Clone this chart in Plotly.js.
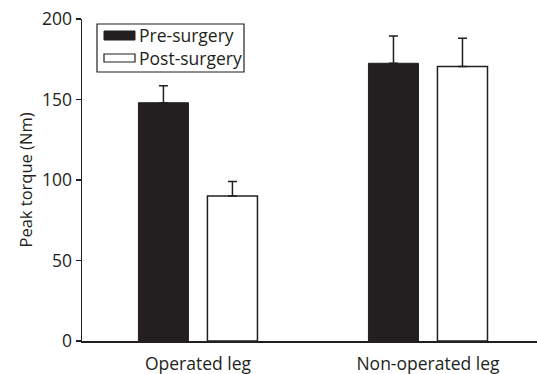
<!DOCTYPE html>
<html>
<head>
<meta charset="utf-8">
<script src="https://cdn.plot.ly/plotly-3.0.1.min.js"></script>
<style>html,body{margin:0;padding:0;background:#fff;}#chart{width:537px;height:374px;}</style>
</head>
<body>
<div id="chart"></div>
<script>
const categories = ['Operated leg', 'Non-operated leg'];
const seriesNames = ['Pre-surgery', 'Post-surgery'];
const preValues = [148, 172.5];
const preErrors = [10.6, 17];
const postValues = [90, 170.5];
const postErrors = [9, 17.5];
const yTicks = [0, 50, 100, 150, 200];

const ink = '#231f20';
const fontFamily = 'Open Sans, sans-serif';

const W = 537, H = 374, mL = 82, mR = 0, mT = 19, mB = 33;
const pw = W - mL - mR, ph = H - mT - mB;
const px = v => (v - mL) / pw;
const py = v => (H - mB - v) / ph;

const traces = [
  {
    type: 'bar', name: seriesNames[0], x: categories, y: preValues,
    marker: {color: ink, line: {color: ink, width: 1}},
    error_y: {type: 'data', array: preErrors, arrayminus: [0, 0], symmetric: false, color: ink, thickness: 1.5, width: 4.5},
    showlegend: false
  },
  {
    type: 'bar', name: seriesNames[1], x: categories, y: postValues,
    marker: {color: '#ffffff', line: {color: ink, width: 1.5}},
    error_y: {type: 'data', array: postErrors, arrayminus: [0, 0], symmetric: false, color: ink, thickness: 1.5, width: 4.5},
    showlegend: false
  }
];

const shapes = [
  {type: 'rect', xref: 'paper', yref: 'paper', x0: px(97), x1: px(244), y0: py(72), y1: py(24), line: {color: ink, width: 1.2}, fillcolor: '#ffffff'},
  {type: 'rect', xref: 'paper', yref: 'paper', x0: px(104), x1: px(135), y0: py(40), y1: py(31), line: {color: ink, width: 1}, fillcolor: ink},
  {type: 'rect', xref: 'paper', yref: 'paper', x0: px(104), x1: px(135), y0: py(62), y1: py(54), line: {color: ink, width: 1.2}, fillcolor: '#ffffff'}
];

const annotations = [
  {xref: 'paper', yref: 'paper', x: px(137), y: py(35.5), text: seriesNames[0], showarrow: false, xanchor: 'left', yanchor: 'middle', font: {family: fontFamily, size: 17.5, color: ink}},
  {xref: 'paper', yref: 'paper', x: px(137), y: py(58), text: seriesNames[1], showarrow: false, xanchor: 'left', yanchor: 'middle', font: {family: fontFamily, size: 17.5, color: ink}}
];

const layout = {
  width: W, height: H,
  margin: {l: mL, r: mR, t: mT, b: mB, pad: 0},
  paper_bgcolor: '#ffffff', plot_bgcolor: '#ffffff',
  font: {family: fontFamily, size: 17.5, color: ink},
  barmode: 'group', bargap: 0.4, bargroupgap: 0.275,
  showlegend: false,
  xaxis: {
    type: 'category', range: [-0.504, 1.474], showline: true, linecolor: ink, linewidth: 1.5,
    ticks: '', showgrid: false, zeroline: false, tickfont: {family: fontFamily, size: 17.5, color: ink},
    ticklabelstandoff: 6,
    fixedrange: true
  },
  yaxis: {
    range: [0, 200], tickvals: yTicks, ticktext: yTicks.map(String), showline: true, linecolor: ink, linewidth: 1.5,
    ticks: 'outside', ticklen: 5, tickwidth: 1.5, tickcolor: ink, showgrid: false, zeroline: false,
    tickfont: {family: fontFamily, size: 17.5, color: ink},
    title: {text: 'Peak torque (Nm)', font: {family: fontFamily, size: 16.5, color: ink}, standoff: 5},
    fixedrange: true
  },
  shapes: shapes,
  annotations: annotations
};

Plotly.newPlot('chart', traces, layout, {displayModeBar: false, staticPlot: true});
</script>
</body>
</html>
